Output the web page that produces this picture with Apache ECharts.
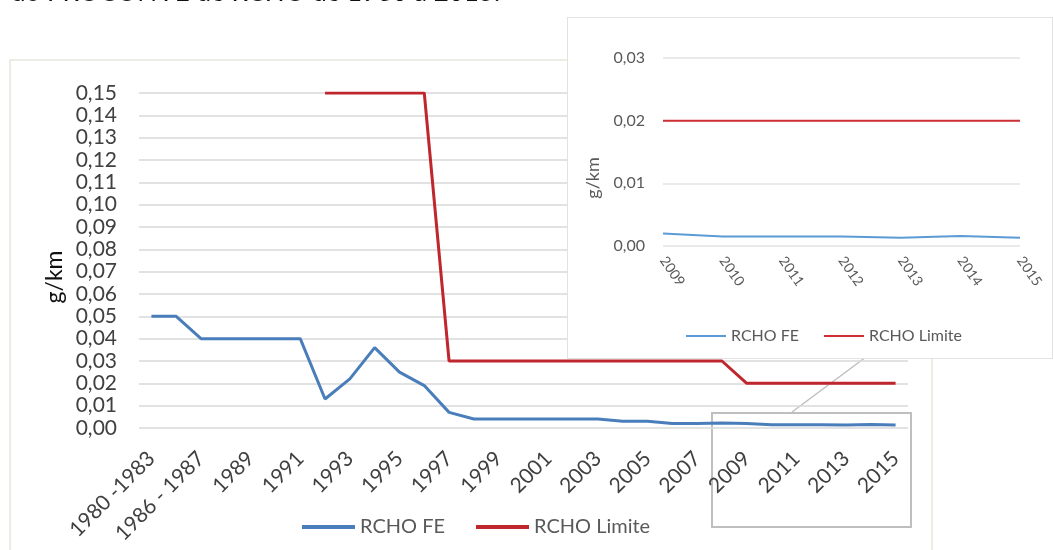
<!DOCTYPE html>
<html>
<head>
<meta charset="utf-8">
<script src="https://cdn.jsdelivr.net/npm/echarts@6/dist/echarts.min.js"></script>
<style>
  html, body { margin: 0; padding: 0; background: #fff; }
  #main { position: absolute; left: 0; top: 0; width: 1053px; height: 550px; }
  #inset { position: absolute; left: 567px; top: 17px; width: 486px; height: 342px;
           background: #fff; border: 1px solid #e2e2e2; box-sizing: border-box; }
</style>
</head>
<body>
<div id="main"></div>
<div id="inset"></div>
<script>
const categories = ['1980 -1983', '1984 - 1985', '1986 - 1987', '1988', '1989', '1990', '1991',
  '1992', '1993', '1994', '1995', '1996', '1997', '1998', '1999', '2000', '2001', '2002', '2003',
  '2004', '2005', '2006', '2007', '2008', '2009', '2010', '2011', '2012', '2013', '2014', '2015'];
const rchoFE = [0.05, 0.05, 0.04, 0.04, 0.04, 0.04, 0.04,
  0.013, 0.022, 0.036, 0.025, 0.019, 0.007, 0.004, 0.004, 0.004, 0.004, 0.004, 0.004,
  0.003, 0.003, 0.002, 0.002, 0.0022, 0.002, 0.0015, 0.0015, 0.0015, 0.0013, 0.0016, 0.0013];
const rchoLimite = [null, null, null, null, null, null, null,
  0.15, 0.15, 0.15, 0.15, 0.15, 0.03, 0.03, 0.03, 0.03, 0.03, 0.03, 0.03,
  0.03, 0.03, 0.03, 0.03, 0.03, 0.02, 0.02, 0.02, 0.02, 0.02, 0.02, 0.02];

// the zoomed part (2009 - 2015)
const insetYears = categories.slice(24);
const insetFE = rchoFE.slice(24);
const insetLimite = rchoLimite.slice(24);

const FONT = 'Lato';
const comma = v => v.toFixed(2).replace('.', ',');

const main = echarts.init(document.getElementById('main'));
main.setOption({
  animation: false,
  textStyle: { fontFamily: FONT },
  legend: {
    left: 297,
    top: 512,
    itemWidth: 53,
    itemHeight: 4,
    itemGap: 31,
    icon: 'rect',
    textStyle: { fontSize: 20, color: '#595959' },
    data: ['RCHO FE', 'RCHO Limite']
  },
  grid: { left: 139, right: 145, top: 93, bottom: 122 },
  xAxis: {
    type: 'category',
    data: categories,
    boundaryGap: true,
    axisLine: { show: false },
    axisTick: { show: false },
    axisLabel: { interval: 1, rotate: 45, fontSize: 21, color: '#404040', margin: 27 }
  },
  yAxis: {
    type: 'value',
    min: 0,
    max: 0.15,
    interval: 0.01,
    axisLabel: { fontSize: 21, color: '#404040', margin: 22, formatter: comma },
    splitLine: { lineStyle: { color: '#d9d9d9', width: 1.5 } }
  },
  series: [
    { name: 'RCHO FE', type: 'line', data: rchoFE, color: '#4a7ebb' },
    { name: 'RCHO Limite', type: 'line', data: rchoLimite, color: '#c0262d' }
  ].map(s => ({ ...s, symbol: 'none', lineStyle: { width: 3 } })),
  graphic: [
    { type: 'rect', shape: { x: 10, y: 60, width: 922, height: 520 },
      style: { fill: 'none', stroke: '#e6e6dc', lineWidth: 1.5 }, z: -1 },
    { type: 'text', x: 11, y: 6,
      style: { text: 'do PROCONVE de RCHO de 1980 a 2015.', font: '26px ' + FONT,
               fill: '#111', textVerticalAlign: 'bottom' } },
    { type: 'text', x: 55, y: 277, rotation: Math.PI / 2,
      style: { text: 'g/km', font: '23px ' + FONT, fill: '#111',
               textAlign: 'center', textVerticalAlign: 'middle' } },
    { type: 'rect', shape: { x: 712, y: 413, width: 199, height: 114 },
      style: { fill: 'none', stroke: '#bfbfbf', lineWidth: 2 } },
    { type: 'line', shape: { x1: 792, y1: 412, x2: 870, y2: 354 },
      style: { stroke: '#bfbfbf', lineWidth: 1.5 } }
  ]
});

const inset = echarts.init(document.getElementById('inset'));
inset.setOption({
  animation: false,
  textStyle: { fontFamily: FONT },
  legend: {
    left: 113,
    top: 305,
    itemWidth: 40,
    itemHeight: 2,
    itemGap: 25,
    icon: 'rect',
    textStyle: { fontSize: 16, color: '#595959' },
    data: ['RCHO FE', 'RCHO Limite']
  },
  grid: { left: 95, right: 32, top: 40, bottom: 112 },
  xAxis: {
    type: 'category',
    data: insetYears,
    boundaryGap: false,
    axisLine: { show: false },
    axisTick: { show: false },
    axisLabel: { rotate: -55, fontSize: 14, color: '#595959', margin: 12 }
  },
  yAxis: {
    type: 'value',
    min: 0,
    max: 0.03,
    interval: 0.01,
    axisLabel: { fontSize: 16, color: '#595959', margin: 18, formatter: comma },
    splitLine: { lineStyle: { color: '#e3e3e3', width: 1.5 } }
  },
  series: [
    { name: 'RCHO FE', type: 'line', data: insetFE, color: '#5b9bd5' },
    { name: 'RCHO Limite', type: 'line', data: insetLimite, color: '#cf3035' }
  ].map(s => ({ ...s, symbol: 'none', lineStyle: { width: 2 } })),
  graphic: [
    { type: 'text', x: 25, y: 160, rotation: Math.PI / 2,
      style: { text: 'g/km', font: '18px ' + FONT, fill: '#595959',
               textAlign: 'center', textVerticalAlign: 'middle' } }
  ]
});
</script>
</body>
</html>
